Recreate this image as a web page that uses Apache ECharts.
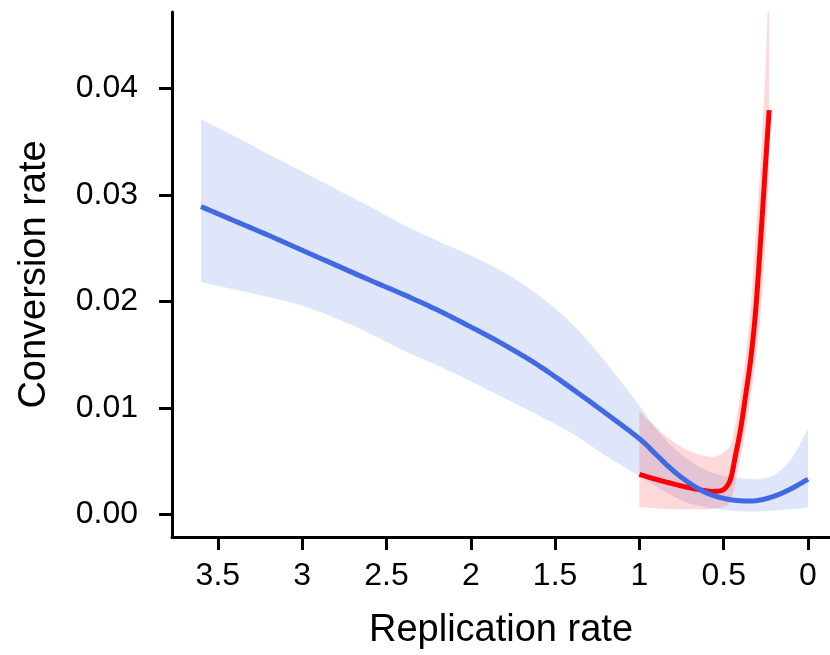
<!DOCTYPE html>
<html>
<head>
<meta charset="utf-8">
<script src="https://cdn.jsdelivr.net/npm/echarts@6/dist/echarts.min.js"></script>
<style>
html,body{margin:0;padding:0;background:#fff;}
#chart{width:830px;height:655px;}
</style>
</head>
<body>
<div id="chart"></div>
<script>
// Blue fit (full range)
var xBlue    = [3.6, 3.4, 3.2, 3.0, 2.8, 2.6, 2.4, 2.2, 2.0, 1.8, 1.6, 1.4, 1.2, 1.0, 0.9, 0.8, 0.7, 0.6, 0.5, 0.4, 0.3, 0.2, 0.1, 0.0];
var blueFit  = [0.0289, 0.02755, 0.0262, 0.0248, 0.0234, 0.0220, 0.02065, 0.0192, 0.0176, 0.0159, 0.0140, 0.0118, 0.0095, 0.0071, 0.0056, 0.0041, 0.0029, 0.0020, 0.0015, 0.00127, 0.0013, 0.0017, 0.0024, 0.0033];
var blueHigh = [0.0371, 0.0355, 0.0338, 0.0322, 0.03055, 0.0289, 0.0272, 0.0257, 0.0243, 0.0227, 0.0206, 0.0179, 0.0143, 0.0102, 0.0080, 0.0063, 0.0050, 0.0041, 0.0036, 0.0034, 0.0033, 0.0037, 0.0052, 0.0080];
var blueLow  = [0.0218, 0.0211, 0.0204, 0.0196, 0.0184, 0.0170, 0.0154, 0.0140, 0.0125, 0.0109, 0.0093, 0.0076, 0.0055, 0.0036, 0.0026, 0.0017, 0.0010, 0.00066, 0.00042, 0.00028, 0.00028, 0.00037, 0.00047, 0.00066];

// Red fit (low replication range)
var xRed    = [1.0, 0.9, 0.8, 0.7, 0.6, 0.55, 0.5, 0.46, 0.43, 0.40, 0.37, 0.34, 0.31, 0.28, 0.25, 0.23];
var redFit  = [0.00375, 0.00328, 0.00286, 0.00248, 0.0022, 0.00216, 0.00234, 0.00328, 0.00553, 0.00797, 0.01115, 0.01453, 0.01921, 0.02596, 0.03327, 0.03796];
var redHigh = [0.00965, 0.00815, 0.00684, 0.0059, 0.00544, 0.00544, 0.00581, 0.0065, 0.0085, 0.0115, 0.0148, 0.0195, 0.0262, 0.0335, 0.0425, 0.052];
var redLow  = [0.00066, 0.00056, 0.00047, 0.00047, 0.00047, 0.00056, 0.0007, 0.0012, 0.0030, 0.0053, 0.0078, 0.0110, 0.0144, 0.0190, 0.0258, 0.0330];

var xTicks = [0, 0.5, 1, 1.5, 2, 2.5, 3, 3.5];
var yTicks = [0, 0.01, 0.02, 0.03, 0.04];

function bandRows(xs, lo, hi){ return xs.map(function(x,i){ return [x, lo[i], hi[i]]; }); }
function lineRows(xs, ys){ return xs.map(function(x,i){ return [x, ys[i]]; }); }

// Catmull-Rom sampling in pixel space (rendering only)
function spline(pts, n){
  var out = [];
  for (var i = 0; i < pts.length - 1; i++){
    var p0 = pts[Math.max(i-1,0)], p1 = pts[i], p2 = pts[i+1], p3 = pts[Math.min(i+2, pts.length-1)];
    for (var k = 0; k < n; k++){
      var t = k / n, t2 = t*t, t3 = t2*t;
      var x = 0.5*((2*p1[0]) + (-p0[0]+p2[0])*t + (2*p0[0]-5*p1[0]+4*p2[0]-p3[0])*t2 + (-p0[0]+3*p1[0]-3*p2[0]+p3[0])*t3);
      var y = 0.5*((2*p1[1]) + (-p0[1]+p2[1])*t + (2*p0[1]-5*p1[1]+4*p2[1]-p3[1])*t2 + (-p0[1]+3*p1[1]-3*p2[1]+p3[1])*t3);
      out.push([x,y]);
    }
  }
  out.push(pts[pts.length-1]);
  return out;
}

function makeBand(rows, color, z){
  return {
    type:'custom', data: rows, clip:true, z:z, silent:true,
    encode:{x:0, y:[1,2]},
    renderItem:function(params, api){
      if (params.dataIndex !== 0) return null;
      var up = rows.map(function(r){ return api.coord([r[0], r[2]]); });
      var lo = rows.map(function(r){ return api.coord([r[0], r[1]]); });
      var poly = spline(up, 12).concat(spline(lo, 12).reverse());
      return {type:'polygon', shape:{points: poly}, style:{fill: color}, silent:true};
    }
  };
}

function makeLine(rows, color, z){
  return {
    type:'custom', data: rows, clip:true, z:z, silent:true,
    encode:{x:0, y:1},
    renderItem:function(params, api){
      if (params.dataIndex !== 0) return null;
      var pts = rows.map(function(r){ return api.coord([r[0], r[1]]); });
      return {type:'polyline', shape:{points: spline(pts, 12)},
        style:{stroke: color, lineWidth:5, fill:null, lineJoin:'round', lineCap:'butt'}, silent:true};
    }
  };
}

var FONT = 'Liberation Sans, Arial, sans-serif';
var chart = echarts.init(document.getElementById('chart'), null, {renderer:'canvas'});

chart.setOption({
  animation:false,
  backgroundColor:'#fff',
  grid:{left:172, right:0, top:12, bottom:117, containLabel:false},
  xAxis:{
    type:'value', inverse:true, min:-0.1305, max:3.772,
    name:'Replication rate', nameLocation:'middle', nameGap:75,
    nameTextStyle:{fontFamily:FONT, fontSize:38, color:'#000'},
    axisLine:{show:true, onZero:false, lineStyle:{color:'#000', width:3}},
    axisTick:{show:true, length:13, lineStyle:{color:'#000', width:3}, customValues:xTicks},
    axisLabel:{fontFamily:FONT, fontSize:32, color:'#000', margin:23, customValues:xTicks,
      formatter:function(v){ return String(v); }},
    splitLine:{show:false}
  },
  yAxis:{
    type:'value', min:-0.00213, max:0.04717,
    name:'Conversion rate', nameLocation:'middle', nameGap:118,
    nameTextStyle:{fontFamily:FONT, fontSize:38, color:'#000'},
    axisLine:{show:true, onZero:false, lineStyle:{color:'#000', width:3}},
    axisTick:{show:true, length:13, lineStyle:{color:'#000', width:3}, customValues:yTicks},
    axisLabel:{fontFamily:FONT, fontSize:32, color:'#000', margin:34, customValues:yTicks,
      formatter:function(v){ return v.toFixed(2); }},
    splitLine:{show:false}
  },
  series:[
    makeBand(bandRows(xBlue, blueLow, blueHigh), 'rgba(65,105,225,0.17)', 1),
    makeBand(bandRows(xRed, redLow, redHigh), 'rgba(255,0,0,0.15)', 2),
    makeLine(lineRows(xRed, redFit), '#FF0000', 3),
    makeLine(lineRows(xBlue, blueFit), '#4169E1', 4)
  ]
});
</script>
</body>
</html>
